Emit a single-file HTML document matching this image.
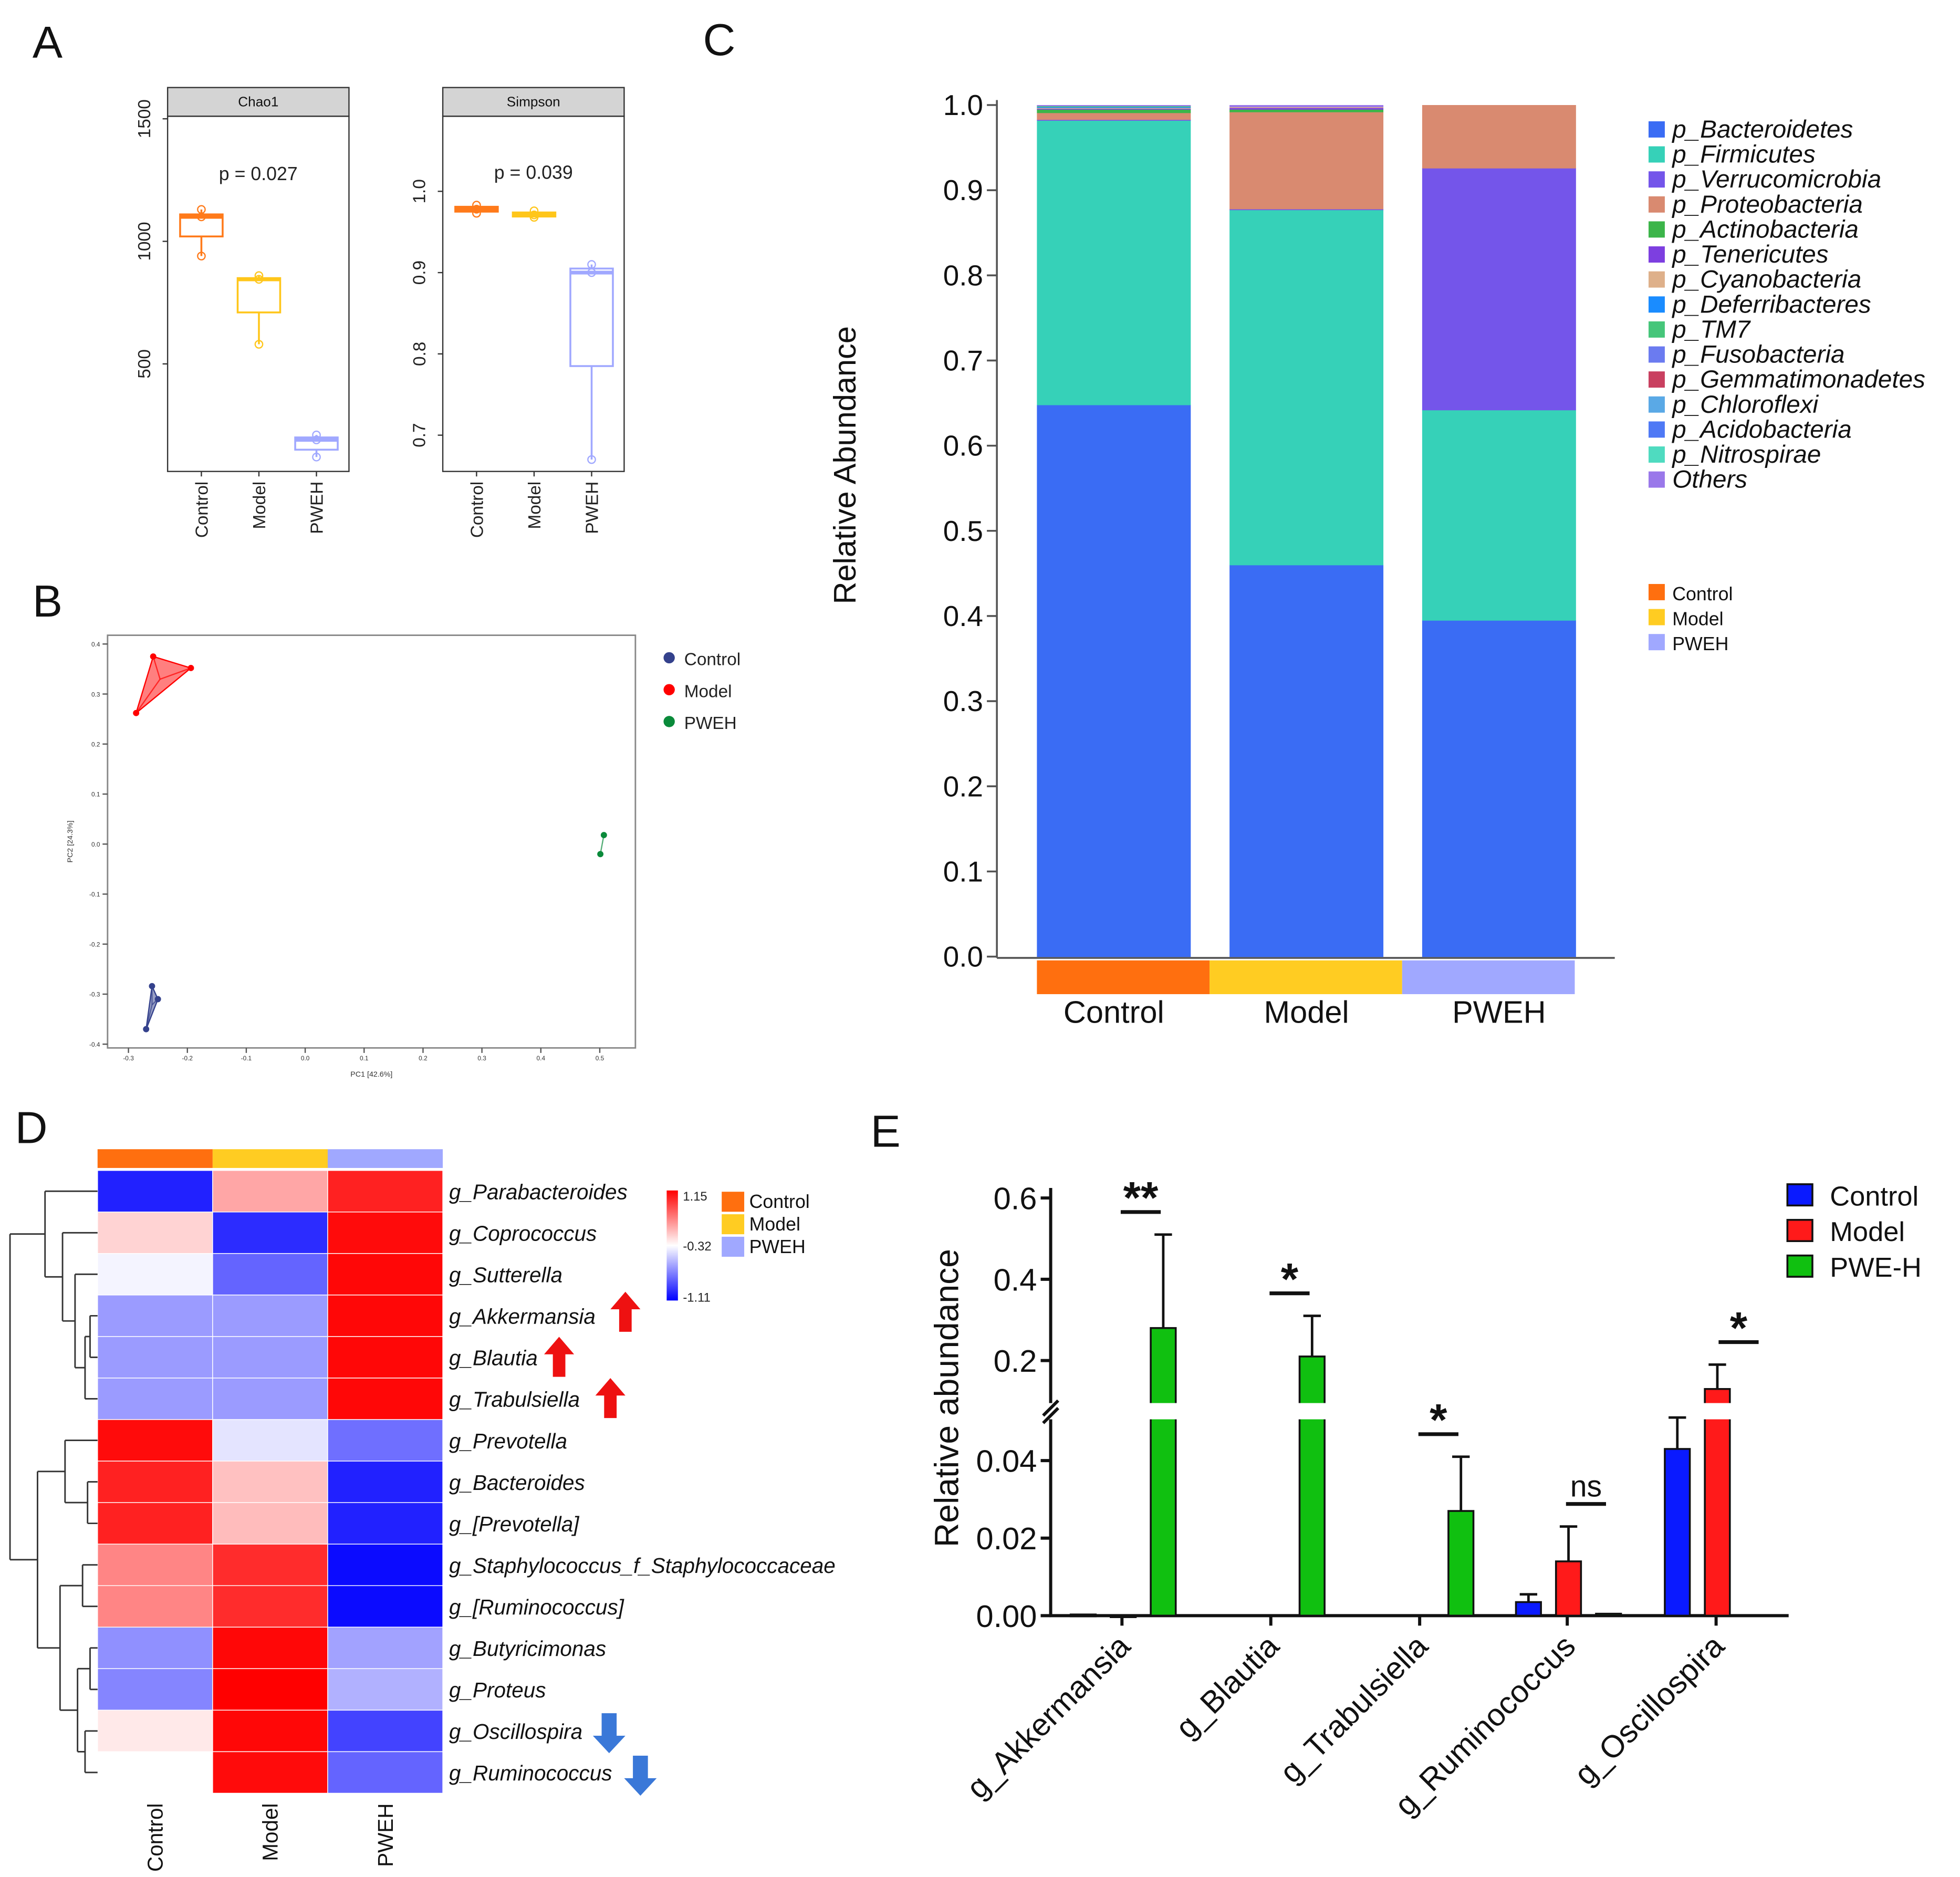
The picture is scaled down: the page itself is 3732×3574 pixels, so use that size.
<!DOCTYPE html>
<html><head><meta charset="utf-8"><style>
html,body{margin:0;padding:0;background:#fff}
svg{display:block}
text{font-family:"Liberation Sans",sans-serif}
</style></head><body>
<svg id="fig" xmlns="http://www.w3.org/2000/svg" width="3732" height="3574" viewBox="0 0 1567 1501" preserveAspectRatio="none">
<rect width="1600" height="1520" fill="#fff"/>
<g id="root"></g>
</svg>
<script>
// ---------- Panel A data ----------
const alphaGroups = ["Control","Model","PWEH"];
const chaoMin = [940,580,120], chaoQ1=[1020,710,150], chaoMed=[1100,845,190], chaoQ3=[1110,850,200], chaoMax=[1130,860,210];
const chaoTicks = [500,1000,1500];
const simpMin=[0.973,0.968,0.67], simpQ1=[0.975,0.969,0.785], simpMed=[0.978,0.971,0.9], simpQ3=[0.981,0.974,0.905], simpMax=[0.983,0.976,0.91];
const simpTicks=[0.7,0.8,0.9,1.0];
// ---------- Panel B data ----------
const pcoaGroups=["Control","Model","PWEH"];
const pcoaX=[[-0.26,-0.25,-0.27],[-0.258,-0.194,-0.287],[0.507,0.501]];
const pcoaY=[[-0.284,-0.31,-0.37],[0.375,0.352,0.262],[0.018,-0.02]];
const pcoaXTicks=[-0.3,-0.2,-0.1,0.0,0.1,0.2,0.3,0.4,0.5];
const pcoaYTicks=[0.4,0.3,0.2,0.1,0.0,-0.1,-0.2,-0.3,-0.4];
// ---------- Panel C data ----------
const phyla=["p_Bacteroidetes","p_Firmicutes","p_Verrucomicrobia","p_Proteobacteria","p_Actinobacteria","p_Tenericutes","p_Cyanobacteria","p_Deferribacteres","p_TM7","p_Fusobacteria","p_Gemmatimonadetes","p_Chloroflexi","p_Acidobacteria","p_Nitrospirae","Others"];
const phylaColors=["#3a6cf4","#36d1b8","#7455ea","#d98a70","#3cb54a","#7d3fe0","#deb08a","#1a8cff","#46c67a","#6b7bf0","#c94060","#5aa9e6","#4f79f5","#4fdbc0","#9a78ea"];
const stackGroups=["Control","Model","PWEH"];
const abControl=[0.648,0.334,0.001,0.008,0.004,0.001,0.001,0.001,0.001,0,0,0,0,0,0.001];
const abModel=[0.46,0.417,0.001,0.114,0.003,0.002,0.001,0,0,0,0,0,0,0,0.002];
const abPWEH=[0.395,0.247,0.284,0.074,0,0,0,0,0,0,0,0,0,0,0];
const abTicks=[0,0.1,0.2,0.3,0.4,0.5,0.6,0.7,0.8,0.9,1.0];
// ---------- Panel D data ----------
const genera=["g_Parabacteroides","g_Coprococcus","g_Sutterella","g_Akkermansia","g_Blautia","g_Trabulsiella","g_Prevotella","g_Bacteroides","g_[Prevotella]","g_Staphylococcus_f_Staphylococcaceae","g_[Ruminococcus]","g_Butyricimonas","g_Proteus","g_Oscillospira","g_Ruminococcus"];
const heatControl=[-1.0,0.2,-0.05,-0.45,-0.45,-0.45,1.1,1.0,1.0,0.55,0.55,-0.5,-0.55,0.1,0];
const heatModel=[0.4,-0.95,-0.7,-0.45,-0.45,-0.45,-0.12,0.28,0.3,0.95,0.95,1.12,1.15,1.12,1.1];
const heatPWEH=[1.0,1.1,1.12,1.12,1.12,1.12,-0.65,-1.0,-1.0,-1.1,-1.1,-0.42,-0.35,-0.85,-0.7];
// ---------- Panel E data ----------
const eGenera=["g_Akkermansia","g_Blautia","g_Trabulsiella","g_Ruminococcus","g_Oscillospira"];
const eControl=[0.0003,0,0,0.0035,0.043];
const eModel=[0.0001,0,0,0.014,0.13];
const ePWE=[0.28,0.21,0.027,0.0005,0];
const eCtrlErr=[0,0,0,0.0055,0.050];
const eModelErr=[0,0,0,0.023,0.19];
const ePWEErr=[0.51,0.31,0.041,0,0];
const eSig=["**","*","*","ns","*"];
const eLowTicks=[0.00,0.02,0.04];
const eHighTicks=[0.2,0.4,0.6];

const NS="http://www.w3.org/2000/svg";
const root=document.getElementById('root');
function el(tag,attrs,parent,text){const e=document.createElementNS(NS,tag);for(const k in attrs)e.setAttribute(k,attrs[k]);if(text!==undefined)e.textContent=text;(parent||root).appendChild(e);return e;}
function grp(name){const g=el('g',{});return g;}

const letters=[["A",26,46],["B",26,493],["C",562,44],["D",12,914],["E",696,917]];
letters.forEach(l=>{const t=el('text',{x:l[1],y:l[2],'font-size':36,fill:'#111'},root,l[0]);});

// ---------- Panel A ----------
const boxCols=["#ff7a1a","#ffc61a","#a0a8ff"];
function boxPanel(name,x0,title,ticks,mins,q1,med,q3,maxs,yOf,tickFmt,pText,pY){
  const g=grp(name);
  el('rect',{x:x0,y:70,width:145,height:23,fill:'#d4d4d4',stroke:'#333','stroke-width':1},g);
  el('text',{x:x0+72.5,y:85,'font-size':11,'text-anchor':'middle',fill:'#111'},g,title);
  el('rect',{x:x0,y:93,width:145,height:284,fill:'#fff',stroke:'#333','stroke-width':1},g);
  ticks.forEach(t=>{const y=yOf(t);el('line',{x1:x0-4,x2:x0,y1:y,y2:y,stroke:'#333'},g);
    el('text',{x:x0-14,y:y,'font-size':14,'text-anchor':'middle',fill:'#222',transform:`rotate(-90 ${x0-14} ${y})`},g,tickFmt(t));});
  el('text',{x:x0+72.5,y:pY,'font-size':15,'text-anchor':'middle',fill:'#222'},g,pText);
  alphaGroups.forEach((gr,i)=>{const cx=x0+27+i*46;const c=boxCols[i];
    const b=grp(name+'-box-'+gr.toLowerCase());g.appendChild(b);
    el('line',{x1:cx,x2:cx,y1:yOf(maxs[i]),y2:yOf(mins[i]),stroke:c,'stroke-width':1.5},b);
    el('rect',{x:cx-17,y:yOf(q3[i]),width:34,height:Math.max(2,yOf(q1[i])-yOf(q3[i])),fill:'#fff',stroke:c,'stroke-width':1.5},b);
    el('line',{x1:cx-17,x2:cx+17,y1:yOf(med[i]),y2:yOf(med[i]),stroke:c,'stroke-width':3},b);
    [mins[i],med[i],maxs[i]].forEach(v=>el('circle',{cx:cx,cy:yOf(v),r:3,fill:'none',stroke:c},b));
    el('line',{x1:cx,x2:cx,y1:377,y2:381,stroke:'#333'},g);
    el('text',{x:cx+5,y:385,'font-size':14,'text-anchor':'end',fill:'#222',transform:`rotate(-90 ${cx+5} 385)`},g,gr);
  });
}
boxPanel('chao1-boxplot',134,'Chao1',chaoTicks,chaoMin,chaoQ1,chaoMed,chaoQ3,chaoMax,v=>95+(1500-v)*0.196,t=>String(t),'p = 0.027',144);
boxPanel('simpson-boxplot',354,'Simpson',simpTicks,simpMin,simpQ1,simpMed,simpQ3,simpMax,v=>153+(1.0-v)*650,t=>t.toFixed(1),'p = 0.039',143);

// ---------- Panel B ----------
(function(){
  const g=grp('pcoa-plot');
  const xOf=v=>244+v*471; const yOf=v=>675-v*400;
  el('rect',{x:86,y:508,width:422,height:330,fill:'#fff',stroke:'#888','stroke-width':1.2},g);
  pcoaXTicks.forEach(t=>{const x=xOf(t);el('line',{x1:x,x2:x,y1:838,y2:842,stroke:'#555'},g);el('text',{x:x,y:848,'font-size':5,'text-anchor':'middle',fill:'#333'},g,t.toFixed(1));});
  pcoaYTicks.forEach(t=>{const y=yOf(t);el('line',{x1:82,x2:86,y1:y,y2:y,stroke:'#555'},g);el('text',{x:80,y:y+2,'font-size':5,'text-anchor':'end',fill:'#333'},g,t.toFixed(1));});
  el('text',{x:297,y:861,'font-size':6,'text-anchor':'middle',fill:'#333'},g,'PC1 [42.6%]');
  el('text',{x:58,y:673,'font-size':6,'text-anchor':'middle',fill:'#333',transform:'rotate(-90 58 673)'},g,'PC2 [24.3%]');
  const cols=['#34418c','#ff0000','#0a8a3a'];
  pcoaGroups.forEach((gr,i)=>{const pts=pcoaX[i].map((x,j)=>[xOf(x),yOf(pcoaY[i][j])]);
    const sg=grp('pcoa-'+gr.toLowerCase());g.appendChild(sg);
    const cx=pts.reduce((a,p)=>a+p[0],0)/pts.length, cy=pts.reduce((a,p)=>a+p[1],0)/pts.length;
    if(pts.length>2) el('polygon',{points:pts.map(p=>p.join(',')).join(' '),fill:cols[i],'fill-opacity':0.5,stroke:cols[i],'stroke-width':1},sg);
    pts.forEach(p=>el('line',{x1:cx,y1:cy,x2:p[0],y2:p[1],stroke:cols[i],'stroke-width':1,'stroke-opacity':0.7},sg));
    pts.forEach(p=>el('circle',{cx:p[0],cy:p[1],r:2.5,fill:cols[i]},sg));
    const lg=grp('pcoa-legend-'+gr.toLowerCase());g.appendChild(lg);
    el('circle',{cx:535,cy:526+i*25.5,r:4.5,fill:cols[i]},lg);
    el('text',{x:547,y:532+i*25.5,'font-size':14,fill:'#222'},lg,gr);
  });
})();

// ---------- Panel C ----------
(function(){
  const g=grp('stacked-bar-chart');
  const yOf=v=>765-v*681;
  const barX=[829,983,1137]; const bw=123;
  const data=[abControl,abModel,abPWEH];
  el('line',{x1:797,x2:797,y1:80,y2:766,stroke:'#555','stroke-width':1.5},g);
  el('line',{x1:797,x2:1291,y1:766,y2:766,stroke:'#555','stroke-width':1.5},g);
  abTicks.forEach(t=>{const y=yOf(t);el('line',{x1:789,x2:797,y1:y,y2:y,stroke:'#555','stroke-width':1.5},g);el('text',{x:786,y:y+8,'font-size':23,'text-anchor':'end',fill:'#111'},g,t.toFixed(1));});
  el('text',{x:684,y:372,'font-size':25,'text-anchor':'middle',fill:'#111',transform:'rotate(-90 684 372)'},g,'Relative Abundance');
  stackGroups.forEach((gr,i)=>{const bg=grp('bar-'+gr.toLowerCase());g.appendChild(bg);let cum=0;
    data[i].forEach((v,k)=>{if(v<=0)return;el('rect',{x:barX[i],y:yOf(cum+v),width:bw,height:v*681+0.3,fill:phylaColors[k]},bg);cum+=v;});
  });
  const strip=[[829,967,'#ff6f0f'],[967,1121,'#ffcc22'],[1121,1259,'#a0a8ff']];
  strip.forEach((s,i)=>{const r=el('rect',{x:s[0],y:768,width:s[1]-s[0],height:27,fill:s[2]},g);
    el('text',{x:barX[i]+bw/2,y:818,'font-size':25,'text-anchor':'middle',fill:'#111'},g,stackGroups[i]);});
  phyla.forEach((p,k)=>{const lg=grp('legend-'+p.toLowerCase());g.appendChild(lg);
    el('rect',{x:1318,y:97+k*20,width:13,height:13,fill:phylaColors[k]},lg);
    el('text',{x:1337,y:110+k*20,'font-size':20,'font-style':'italic',fill:'#111'},lg,p);});
  const gc=['#ff6f0f','#ffcc22','#a0a8ff'];
  stackGroups.forEach((gr,i)=>{const lg=grp('group-legend-'+gr.toLowerCase());g.appendChild(lg);
    el('rect',{x:1318,y:467+i*20,width:13,height:13,fill:gc[i]},lg);
    el('text',{x:1337,y:480+i*20,'font-size':15,fill:'#111'},lg,gr);});
})();

// ---------- Panel D ----------
(function(){
  const g=grp('heatmap');
  const colX=[78,170,262], cw=92, y0=936, rh=33.2;
  function col(v){const t=Math.max(-1.15,Math.min(1.15,v));
    if(t>=0){const f=t/1.15;const c=Math.round(255*(1-f));return `rgb(255,${c},${c})`;}
    const f=-t/1.15;const c=Math.round(255*(1-f));return `rgb(${c},${c},255)`;}
  const top=['#ff6f0f','#ffcc22','#a0a8ff'];
  colX.forEach((x,j)=>el('rect',{x:x,y:919,width:cw,height:15,fill:top[j]},g));
  const data=[heatControl,heatModel,heatPWEH];
  genera.forEach((gname,i)=>{const rg=grp('heat-row-'+gname.toLowerCase());g.appendChild(rg);
    data.forEach((d,j)=>{if(i===14&&j===0)return;el('rect',{x:colX[j],y:y0+i*rh,width:cw,height:rh,fill:col(d[i]),stroke:'#fff','stroke-width':0.6},rg);});
    el('text',{x:359,y:y0+i*rh+23,'font-size':17,'font-style':'italic',fill:'#111'},rg,gname);});
  ['Control','Model','PWEH'].forEach((c,j)=>{const x=colX[j]+52;el('text',{x:x,y:1442,'font-size':17,'text-anchor':'end',fill:'#111',transform:`rotate(-90 ${x} 1442)`},g,c);});
  const ry=i=>y0+i*rh+rh/2; const dp=[];
  const seg=(x1,y1,x2,y2)=>dp.push(`M${x1},${y1}L${x2},${y2}`);
  function join(xa,ya,xb,yb,xn){seg(xa,ya,xn,ya);seg(xb,yb,xn,yb);seg(xn,ya,xn,yb);return (ya+yb)/2;}
  let a=join(78,ry(3),78,ry(4),72); a=join(72,a,78,ry(5),68); let b=join(78,ry(2),68,a,60); b=join(78,ry(1),60,b,50);
  let top1=join(78,ry(0),50,b,36);
  let c=join(78,ry(7),78,ry(8),70); c=join(78,ry(6),70,c,52);
  let d=join(78,ry(9),78,ry(10),66);
  let e=join(78,ry(11),78,ry(12),72); let f=join(78,ry(13),78,ry(14),68); e=join(72,e,68,f,62); d=join(66,d,62,e,48);
  let bot=join(52,c,48,d,30);
  join(36,top1,30,bot,8);
  el('path',{d:dp.join(''),stroke:'#333','stroke-width':1.2,fill:'none'},g);
  const defs=el('defs',{},g);const lgr=el('linearGradient',{id:'cbar',x1:0,y1:0,x2:0,y2:1},defs);
  el('stop',{offset:'0',  'stop-color':'#ff0000'},lgr);el('stop',{offset:'0.5','stop-color':'#ffffff'},lgr);el('stop',{offset:'1','stop-color':'#0000ff'},lgr);
  const cb=el('rect',{x:533,y:952,width:9,height:88,fill:'url(#cbar)'},g);
  [['1.15',960],['-0.32',1000],['-1.11',1041]].forEach(l=>el('text',{x:546,y:l[1],'font-size':10,fill:'#222'},g,l[0]));
  ['Control','Model','PWEH'].forEach((c,j)=>{el('rect',{x:577,y:953+j*18,width:18,height:16,fill:top[j]},g);el('text',{x:599,y:966+j*18,'font-size':15,fill:'#111'},g,c);});
  function arrow(x,y,up,color,name){const a=el('path',{d:up?`M${x},${y-16}L${x+12},${y-2}L${x+5},${y-2}L${x+5},${y+16}L${x-5},${y+16}L${x-5},${y-2}L${x-12},${y-2}Z`:`M${x},${y+16}L${x+13},${y+2}L${x+6},${y+2}L${x+6},${y-16}L${x-6},${y-16}L${x-6},${y+2}L${x-13},${y+2}Z`,fill:color},g);}
  arrow(500,1049,true,'#ee1111','arrow-up-akkermansia');arrow(447,1085,true,'#ee1111','arrow-up-blautia');arrow(488,1118,true,'#ee1111','arrow-up-trabulsiella');
  arrow(487,1386,false,'#3a78d8','arrow-down-oscillospira');arrow(512,1420,false,'#3a78d8','arrow-down-ruminococcus');
})();

// ---------- Panel E ----------
(function(){
  const g=grp('bar-chart-e');
  const BRK_LO=1135, BRK_HI=1122;
  const yLow=v=>1292-v*3100; const yHigh=v=>1153-v*325;
  function yOf(v){return v<=0.045?yLow(v):(v<0.09?BRK_LO-((v-0.045)/0.045)*13:yHigh(v));}
  el('line',{x1:840,x2:840,y1:1135,y2:1292,stroke:'#111','stroke-width':2.5},g);
  el('line',{x1:840,x2:840,y1:950,y2:1122,stroke:'#111','stroke-width':2.5},g);
  el('line',{x1:834,x2:846,y1:1132,y2:1120,stroke:'#111','stroke-width':2.5},g);
  el('line',{x1:834,x2:846,y1:1138,y2:1126,stroke:'#111','stroke-width':2.5},g);
  el('line',{x1:839,x2:1430,y1:1292,y2:1292,stroke:'#111','stroke-width':2.5},g);
  eLowTicks.forEach(t=>{const y=yLow(t);el('line',{x1:832,x2:840,y1:y,y2:y,stroke:'#111','stroke-width':2.5},g);el('text',{x:829,y:y+9,'font-size':25,'text-anchor':'end',fill:'#111'},g,t.toFixed(2));});
  eHighTicks.forEach(t=>{const y=yHigh(t);el('line',{x1:832,x2:840,y1:y,y2:y,stroke:'#111','stroke-width':2.5},g);el('text',{x:829,y:y+9,'font-size':25,'text-anchor':'end',fill:'#111'},g,t.toFixed(1));});
  el('text',{x:766,y:1118,'font-size':27,'text-anchor':'middle',fill:'#111',transform:'rotate(-90 766 1118)'},g,'Relative abundance');
  const centers=[897,1016,1135,1253,1372];
  const series=[[eControl,eCtrlErr,'#0a1aff',-41,'control'],[eModel,eModelErr,'#ff1a1a',-9,'model'],[ePWE,ePWEErr,'#10c010',23,'pwe-h']];
  eGenera.forEach((gn,i)=>{const cg=grp('group-'+gn.toLowerCase());g.appendChild(cg);const cx=centers[i];
    el('line',{x1:cx,x2:cx,y1:1292,y2:1300,stroke:'#111','stroke-width':2.5},cg);
    series.forEach(s=>{const v=s[0][i];if(v<=0)return;const x=cx+s[3];const yt=yOf(v);
      if(s[1][i]>0){const ye=yOf(s[1][i]);el('line',{x1:x+10,x2:x+10,y1:ye,y2:yt,stroke:'#111','stroke-width':2},cg);el('line',{x1:x+3,x2:x+17,y1:ye,y2:ye,stroke:'#111','stroke-width':2},cg);}
      const h=1292-yt;
      el('rect',{x:x,y:yt,width:20,height:Math.max(h,1.5),fill:s[2],stroke:'#111','stroke-width':1.5},cg);
      if(v>0.09){el('rect',{x:x-1,y:BRK_HI,width:22,height:BRK_LO-BRK_HI,fill:'#fff'},cg);}
    });
    const sx=cx+ (i===3?15:(i===4?18:15)); const top=yOf(Math.max(series[0][1][i],series[1][1][i],series[2][1][i],eControl[i],eModel[i],ePWE[i]))-18;
    el('line',{x1:sx-16,x2:sx+16,y1:top,y2:top,stroke:'#111','stroke-width':3},cg);
    el('text',{x:sx,y:eSig[i]==='ns'?top-6:top+1,'font-size':eSig[i]==='ns'?24:36,'font-weight':eSig[i]==='ns'?'normal':'bold','text-anchor':'middle',fill:'#111'},cg,eSig[i]);
    el('text',{x:cx+8,y:1318,'font-size':25,'text-anchor':'end',fill:'#111',transform:`rotate(-45 ${cx+8} 1318)`},cg,gn);
  });
  ['Control','Model','PWE-H'].forEach((n,j)=>{const lg=grp('legend-e-'+n.toLowerCase());g.appendChild(lg);
    el('rect',{x:1429,y:947+j*28.5,width:20,height:17,fill:series[j][2],stroke:'#111','stroke-width':1.5},lg);
    el('text',{x:1463,y:964+j*28.5,'font-size':22,fill:'#111'},lg,n);});
})();
</script>
</body></html>
